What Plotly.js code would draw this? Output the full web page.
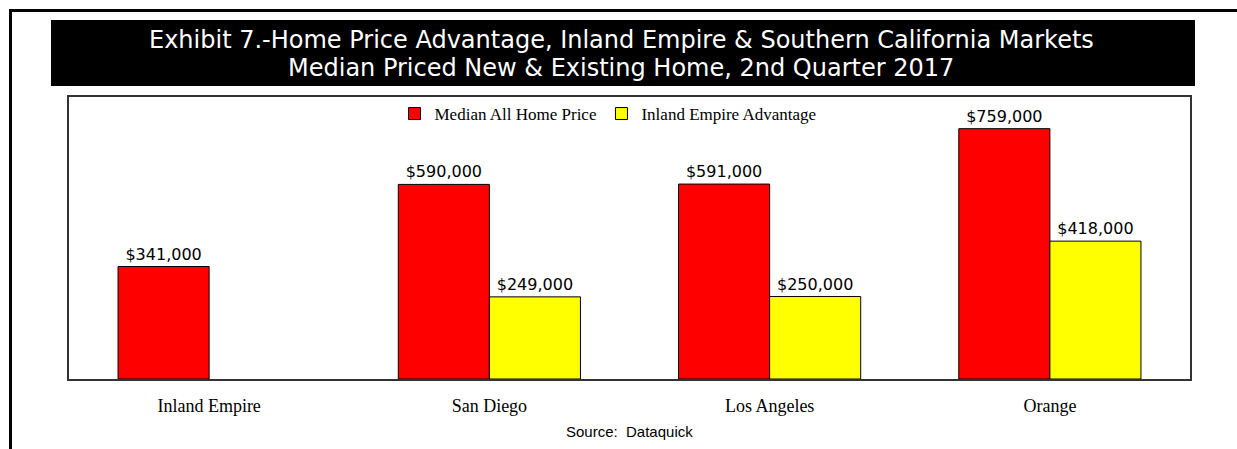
<!DOCTYPE html>
<html>
<head>
<meta charset="utf-8">
<script src="https://cdn.plot.ly/plotly-3.0.1.min.js"></script>
<style>html,body{margin:0;padding:0;background:#fff;}#chart{width:1237px;height:449px;}</style>
</head>
<body>
<div id="chart"></div>
<script>
const categories = ["Inland Empire", "San Diego", "Los Angeles", "Orange"];
const medianPrice = [341000, 590000, 591000, 759000];
const ieAdvantage = [null, 249000, 250000, 418000];
const titleLines = ["Exhibit 7.-Home Price Advantage, Inland Empire & Southern California Markets", "Median Priced New & Existing Home, 2nd Quarter 2017"];
const sourceText = "Source:  Dataquick";

const W = 1237, H = 449;
const L = 69, R = 1190, T = 97, B = 379;
const px = x => (x - L) / (R - L);
const py = y => (B - y) / (B - T);

const labelFont = {family: "DejaVu Sans, sans-serif", size: 16, color: "#000"};
const titleFont = {family: "DejaVu Sans, sans-serif", size: 24, color: "#fff"};

const traces = [
  {type: "bar", name: "Median All Home Price", x: categories, y: medianPrice,
   marker: {color: "#ff0000", line: {color: "#000", width: 1}},
   texttemplate: "$%{y:,.0f}", textposition: "outside", textfont: labelFont,
   cliponaxis: false, hoverinfo: "none"},
  {type: "bar", name: "Inland Empire Advantage", x: categories, y: ieAdvantage,
   marker: {color: "#ffff00", line: {color: "#000", width: 1}},
   texttemplate: "$%{y:,.0f}", textposition: "outside", textfont: labelFont,
   cliponaxis: false, hoverinfo: "none"}
];

const layout = {
  width: W, height: H,
  margin: {l: L, r: W - R, t: T, b: H - B, pad: 0},
  paper_bgcolor: "#fff", plot_bgcolor: "#fff",
  barmode: "group", bargap: 0.35, bargroupgap: 0,
  showlegend: true,
  legend: {orientation: "h", x: px(608), xanchor: "center", y: py(114), yanchor: "middle",
    font: {family: "Liberation Serif, serif", size: 17, color: "#000"},
    bgcolor: "rgba(0,0,0,0)", itemwidth: 30, traceorder: "normal"},
  xaxis: {showline: true, mirror: true, linecolor: "#333", linewidth: 2,
    ticks: "", showgrid: false, zeroline: false, ticklabelstandoff: 9,
    tickfont: {family: "Liberation Serif, serif", size: 18, color: "#000"}, fixedrange: true},
  yaxis: {range: [0, 855000], showline: true, mirror: true, linecolor: "#333", linewidth: 2,
    showticklabels: false, ticks: "", showgrid: false, zeroline: false, fixedrange: true},
  shapes: [
    {type: "rect", xref: "paper", yref: "paper", x0: px(51), x1: px(1195), y0: py(86), y1: py(20),
     fillcolor: "#000", line: {color: "#000", width: 0}, layer: "below"},
    {type: "line", xref: "paper", yref: "paper", x0: px(10.5), x1: px(10.5), y0: py(9), y1: py(452),
     line: {color: "#000", width: 3}},
    {type: "line", xref: "paper", yref: "paper", x0: px(9), x1: px(1240), y0: py(10.5), y1: py(10.5),
     line: {color: "#000", width: 3}}
  ],
  annotations: [
    {xref: "paper", yref: "paper", x: px(621), y: py(40), xanchor: "center", yanchor: "middle",
     text: titleLines[0], showarrow: false, font: titleFont},
    {xref: "paper", yref: "paper", x: px(621), y: py(68), xanchor: "center", yanchor: "middle",
     text: titleLines[1], showarrow: false, font: titleFont},
    {xref: "paper", yref: "paper", x: px(629), y: py(431), xanchor: "center", yanchor: "middle",
     text: sourceText, showarrow: false,
     font: {family: "Liberation Sans, Arial, sans-serif", size: 15, color: "#000"}}
  ]
};

Plotly.newPlot("chart", traces, layout, {displayModeBar: false, staticPlot: true});
</script>
</body>
</html>
